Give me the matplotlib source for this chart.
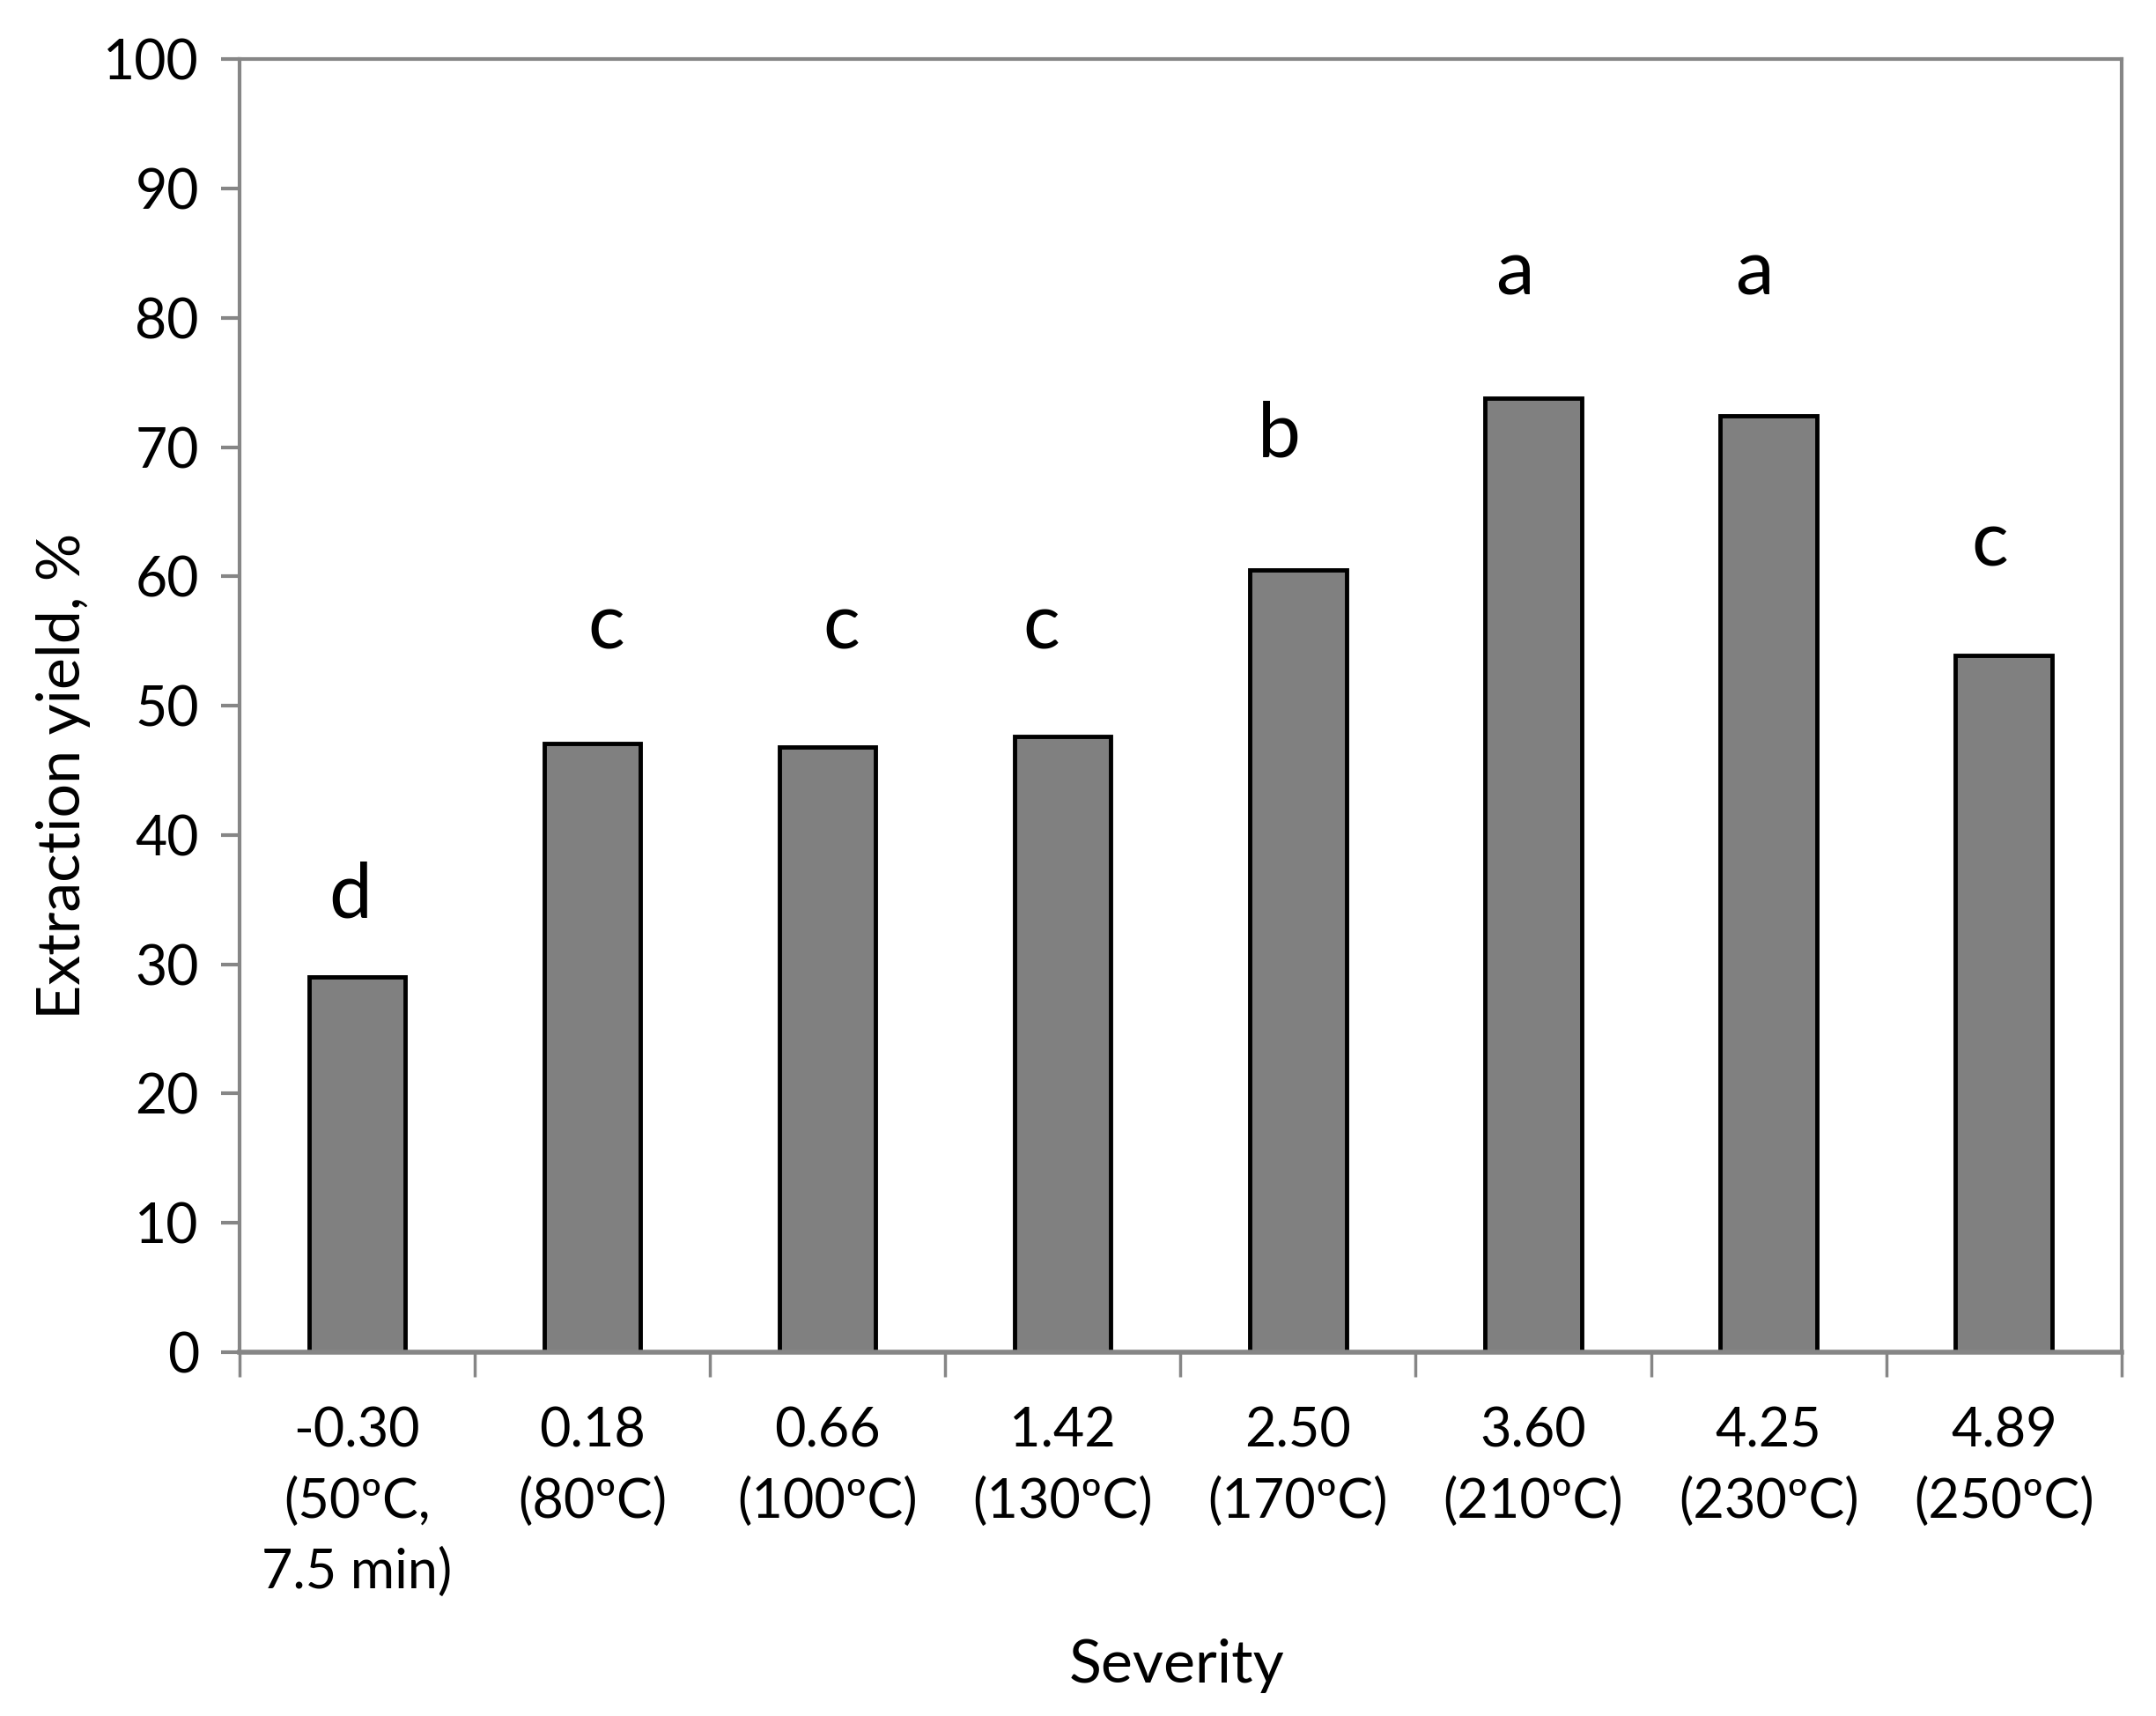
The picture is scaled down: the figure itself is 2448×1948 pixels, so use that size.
import matplotlib
matplotlib.use("Agg")
import matplotlib.pyplot as plt
import numpy as np

plt.rcParams['font.family'] = ['Lato', 'DejaVu Sans']

# data
severity = ["-0.30\n(50ºC,\n7.5 min)", "0.18\n(80ºC)", "0.66\n(100ºC)", "1.42\n(130ºC)",
            "2.50\n(170ºC)", "3.60\n(210ºC)", "4.25\n(230ºC)", "4.89\n(250ºC)"]
yield_pct = [29.0, 47.1, 46.8, 47.6, 60.5, 73.8, 72.4, 53.9]
letters = ["d", "c", "c", "c", "b", "a", "a", "c"]
letter_y = [32.6, 53.4, 53.4, 53.4, 68.2, 80.8, 80.8, 59.8]
letter_dx = [-0.03, 0.06, 0.06, -0.09, -0.08, -0.08, -0.06, -0.06]

grey = '#868686'

fig = plt.figure(figsize=(24.48, 19.48), dpi=100)
ax = fig.add_axes([0.111, 0.212, 0.873, 0.7535])

x = np.arange(len(severity))
ax.bar(x, yield_pct, width=0.41, color='#808080', edgecolor='black', linewidth=3.5, zorder=2)

for xi, dx, ly, t in zip(x, letter_dx, letter_y, letters):
    ax.text(xi + dx, ly, t, ha='center', va='bottom', fontsize=63)

ax.set_xlim(-0.5, len(severity) - 0.5)
ax.set_ylim(0, 100)
ax.set_yticks(np.arange(0, 101, 10))

ax.set_xticks(x)
ax.set_xticklabels(severity, linespacing=1.5, va='top')
ax.set_xticks(np.arange(-0.5, len(severity), 1), minor=True)
ax.tick_params(axis='x', which='major', length=0, pad=44, labelsize=44)
ax.tick_params(axis='x', which='minor', length=20, width=2.5, color=grey)
ax.tick_params(axis='y', length=15, width=3, color=grey, pad=18, labelsize=45)

for s in ax.spines.values():
    s.set_color(grey)
    s.set_linewidth(3)
ax.spines['bottom'].set_linewidth(4)
ax.spines['bottom'].set_zorder(3)

ax.set_ylabel("Extraction yield, %", fontsize=49)
ax.yaxis.set_label_coords(-0.079, 0.446)
ax.set_xlabel("Severity", fontsize=49)
ax.xaxis.set_label_coords(0.498, -0.2215)

fig.savefig("out.png", dpi=100)
